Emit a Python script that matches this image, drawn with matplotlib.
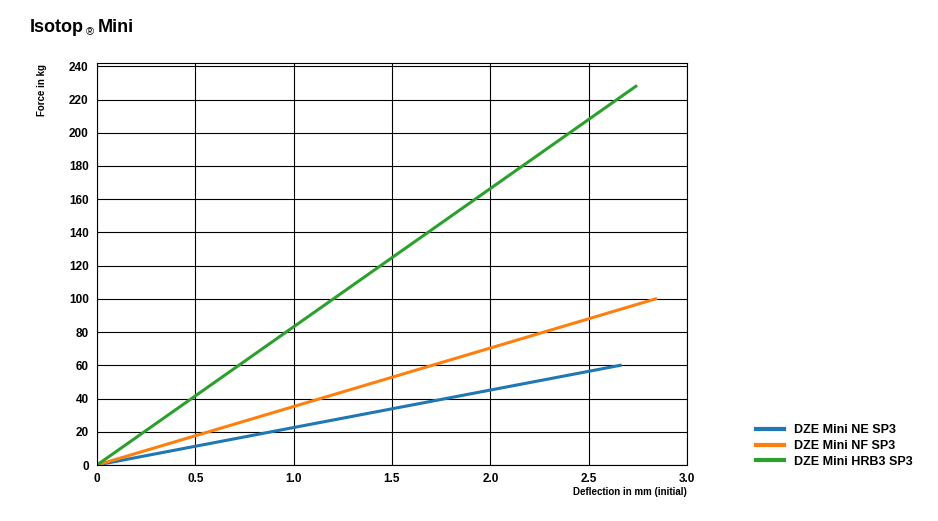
import matplotlib.pyplot as plt

series_names = ["DZE Mini NE SP3", "DZE Mini NF SP3", "DZE Mini HRB3 SP3"]
deflection = [[0, 2.66], [0, 2.84], [0, 2.74]]
force = [[0, 60], [0, 100], [0, 228]]
colors = ["#1f77b4", "#ff7f0e", "#2ca02c"]

plt.rcParams["font.family"] = ["Liberation Sans", "DejaVu Sans"]
fig = plt.figure(figsize=(9.38, 5.21), dpi=100)
ax = fig.add_axes([97 / 938, 1 - 465 / 521, 590 / 938, 402 / 521])

for x, y, c, name in zip(deflection, force, colors, series_names):
    ax.plot(x, y, color=c, linewidth=2.2, label=name)

ax.set_xlim(0, 3.0)
ax.set_ylim(0, 242)
ax.set_xticks([0, 0.5, 1.0, 1.5, 2.0, 2.5, 3.0])
ax.set_xticklabels(["0", "0.5", "1.0", "1.5", "2.0", "2.5", "3.0"])
ax.set_yticks(range(0, 241, 20))
ax.grid(True, color="black", linewidth=0.8)
for s in ax.spines.values():
    s.set_linewidth(0.8)
ax.tick_params(length=0, labelsize=8.5, pad=6)
for t in ax.get_xticklabels() + ax.get_yticklabels():
    t.set_fontweight("bold")

fig.text(687 / 938, 1 - 495 / 521, "Deflection in mm (initial)", fontsize=7, fontweight="bold", ha="right")
fig.text(37 / 938, 1 - 90 / 521, "Force in kg", fontsize=7, fontweight="bold", rotation=90, va="center")
fig.text(30 / 938, 1 - 28 / 521, "Isotop", fontsize=13, fontweight="bold", va="center")
fig.text(86 / 938, 1 - 32 / 521, "®", fontsize=8, va="center")
fig.text(98 / 938, 1 - 28 / 521, "Mini", fontsize=13, fontweight="bold", va="center")

leg = fig.legend(loc="lower left", bbox_to_anchor=(745 / 938, 1 - 479 / 521), frameon=False,
                 prop={"weight": "bold", "size": 9}, handlelength=2.2, labelspacing=0.3)
for line in leg.get_lines():
    line.set_linewidth(3)

fig.savefig("out.png", dpi=100)
